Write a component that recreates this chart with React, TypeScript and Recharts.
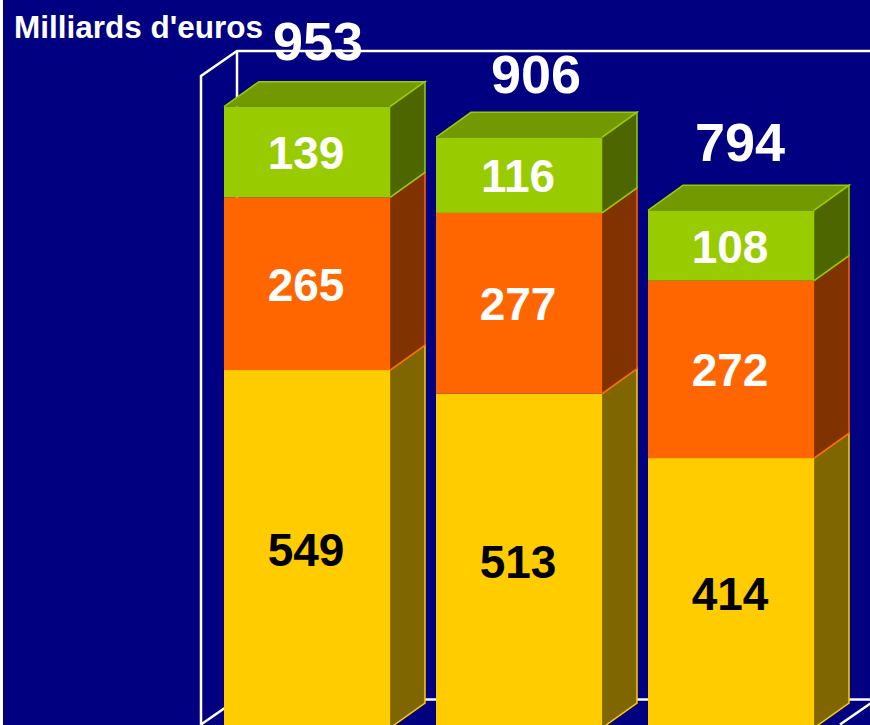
import React from "react";
import { BarChart, Bar, XAxis, YAxis, LabelList, usePlotArea } from "recharts";

const categories = ["A", "B", "C"];
const bottomValues = [549, 513, 414];
const middleValues = [265, 277, 272];
const topValues = [139, 116, 108];
const totals = [953, 906, 794];
const title = "Milliards d'euros";

const rows = categories.map((name, i) => ({
  name,
  bottom: bottomValues[i],
  middle: middleValues[i],
  top: topValues[i],
}));

const FONT = "'Liberation Sans', Arial, sans-serif";
const DX = 36;
const BAR_DX = 35;
const DY = 25;
const LEFT = 3;
const totalOffsets = [
  { dx: 11, dy: -65.5 },
  { dx: 17, dy: -63 },
  { dx: 9, dy: -68.5 },
];

const makeShape = (front: string, side: string, topFace?: string, dull?: string) => (props: any) => {
  const { x, y, width: w, height: h } = props;
  const r = x + w;
  const b = y + h;
  return (
    <g>
      {topFace && (
        <>
          <polygon points={`${x},${y} ${x + BAR_DX},${y - DY} ${r + BAR_DX},${y - DY} ${r},${y}`} fill={topFace} />
          <polyline points={`${x},${y} ${x + BAR_DX},${y - DY} ${r + BAR_DX},${y - DY} ${r},${y}`} fill="none" stroke={front} strokeWidth={1.5} />
        </>
      )}
      <polygon points={`${r},${y} ${r + BAR_DX},${y - DY} ${r + BAR_DX},${b - DY} ${r},${b}`} fill={side} />
      <line x1={r} y1={y} x2={r} y2={b} stroke={dull ?? side} strokeWidth={1} />
      <polyline points={`${r},${y} ${r + BAR_DX},${y - DY} ${r + BAR_DX},${b - DY} ${r},${b}`} fill="none" stroke={front} strokeWidth={1.5} />
      <rect x={x} y={y} width={w} height={h} fill={front} />
    </g>
  );
};

const Frame = () => {
  const plot = usePlotArea();
  if (!plot) return null;
  const l = plot.x;
  const t = plot.y;
  const b = plot.y + plot.height - 3.5;
  const far = 900;
  const rightX = plot.x + plot.width;
  const stroke = { stroke: "#ffffff", strokeWidth: 2.5, fill: "none" };
  return (
    <g>
      <polyline points={`${l},${b + 5} ${l},${t} ${l + DX},${t - DY} ${far},${t - DY}`} {...stroke} />
      <line x1={l + DX} y1={t - DY} x2={l + DX} y2={b - DY} {...stroke} />
      <line x1={l} y1={b} x2={l + DX} y2={b - DY} {...stroke} />
      <line x1={l + DX} y1={b - DY} x2={far} y2={b - DY} {...stroke} />
      <line x1={rightX + 3} y1={b} x2={rightX + 3 + DX} y2={b - DY} {...stroke} />
      <text x={14 - LEFT} y={38} fill="#ffffff" fontFamily={FONT} fontWeight="bold" fontSize={31.5}>
        {title}
      </text>
    </g>
  );
};

const segmentLabel = (color: string) => (props: any) => {
  const { x, y, width, height, value } = props;
  return (
    <text
      x={x + width / 2 - 1}
      y={y + height / 2 + 1}
      fill={color}
      textAnchor="middle"
      dominantBaseline="central"
      fontFamily={FONT}
      fontWeight="bold"
      fontSize={46}
    >
      {value}
    </text>
  );
};

const totalLabel = (props: any) => {
  const { x, y, width, index } = props;
  const o = totalOffsets[index];
  return (
    <text
      x={x + width / 2 + o.dx}
      y={y + o.dy}
      fill="#ffffff"
      textAnchor="middle"
      dominantBaseline="central"
      fontFamily={FONT}
      fontWeight="bold"
      fontSize={54}
    >
      {totals[index]}
    </text>
  );
};

export default function App() {
  return (
    <div
      style={{
        position: "fixed",
        left: 0,
        top: 0,
        width: 870,
        height: 725,
        overflow: "hidden",
        background: "#ffffff",
      }}
    >
      <div style={{ position: "absolute", left: LEFT, top: 0, background: "#000080", width: 867, height: 725, overflow: "hidden" }}>
        <BarChart
          width={867}
          height={732}
          data={rows}
          barSize={166}
          margin={{ top: 76, right: 33, bottom: 4, left: 198 }}
        >
          <Frame />
          <XAxis dataKey="name" hide />
          <YAxis hide domain={[0, 1000]} />
          <Bar dataKey="bottom" stackId="s" isAnimationActive={false} shape={makeShape("#FFCC00", "#806600", undefined, "#A08000")}>
            <LabelList dataKey="bottom" content={segmentLabel("#000000")} />
          </Bar>
          <Bar dataKey="middle" stackId="s" isAnimationActive={false} shape={makeShape("#FF6600", "#803300", undefined, "#A04000")}>
            <LabelList dataKey="middle" content={segmentLabel("#ffffff")} />
          </Bar>
          <Bar dataKey="top" stackId="s" isAnimationActive={false} shape={makeShape("#99CC00", "#4D6600", "#739900", "#739900")}>
            <LabelList dataKey="top" content={segmentLabel("#ffffff")} />
            <LabelList dataKey="top" content={totalLabel} />
          </Bar>
        </BarChart>
      </div>
    </div>
  );
}
